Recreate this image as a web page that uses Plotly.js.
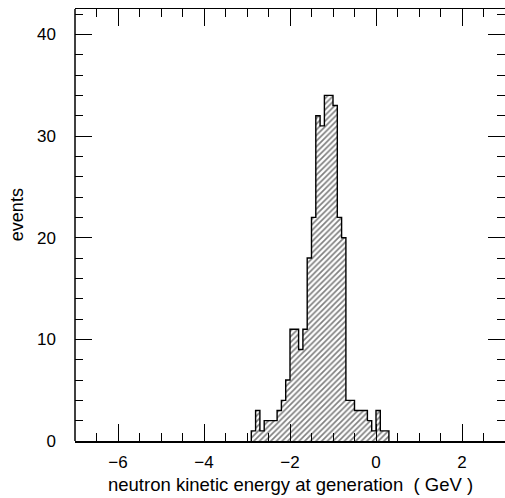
<!DOCTYPE html>
<html>
<head>
<meta charset="utf-8">
<script src="https://cdn.plot.ly/plotly-3.0.1.min.js"></script>
<style>html,body{margin:0;padding:0;background:#fff;}#chart{width:505px;height:498px;}</style>
</head>
<body>
<div id="chart"></div>
<script>
// Bin lower edges (GeV), bin width 0.1
var binEdges = [-2.9,-2.8,-2.7,-2.6,-2.5,-2.4,-2.3,-2.2,-2.1,-2.0,-1.9,-1.8,-1.7,-1.6,-1.5,-1.4,-1.3,-1.2,-1.1,-1.0,-0.9,-0.8,-0.7,-0.6,-0.5,-0.4,-0.3,-0.2,-0.1,0.0,0.1,0.2];
var binWidth = 0.1;
var counts = [1,3,1,2,2,2,3,4,6,11,11,9,11,18,22,32,31,34,34,33,22,20,4,4,3,3,3,2,1,3,1,1];
var xTitle = "neutron kinetic energy at generation  ( GeV )";
var yTitle = "events";

var centers = binEdges.map(function(e){ return e + binWidth/2; });

// step outline
var ox = [binEdges[0]], oy = [0];
for (var i = 0; i < binEdges.length; i++) { ox.push(binEdges[i]); oy.push(counts[i]); }
ox.push(binEdges[binEdges.length-1] + binWidth); oy.push(0);

var bars = {
  type: 'bar', x: centers, y: counts, width: binWidth,
  marker: {color: '#ffffff', line: {width: 0},
    pattern: {shape: '/', size: 4, solidity: 0.42, fgcolor: '#000000', bgcolor: '#ffffff', fillmode: 'overlay'}},
  hoverinfo: 'x+y', showlegend: false
};
var outline = {
  type: 'scatter', mode: 'lines', x: ox, y: oy,
  line: {shape: 'hv', color: '#000000', width: 1.4},
  hoverinfo: 'skip', showlegend: false
};

var fam = 'Liberation Sans, Arial, Helvetica, sans-serif';
var layout = {
  width: 505, height: 498,
  margin: {l: 75, r: 0, t: 9, b: 57, pad: 0},
  paper_bgcolor: '#fff', plot_bgcolor: '#fff',
  font: {family: fam, size: 17, color: '#000'},
  bargap: 0,
  showlegend: false,
  xaxis: {
    range: [-7, 3], dtick: 2, tick0: 0,
    ticks: 'inside', ticklen: 17, tickwidth: 1, tickcolor: '#000',
    minor: {dtick: 0.5, ticks: 'inside', ticklen: 8, tickwidth: 1, tickcolor: '#000'},
    showline: true, linecolor: '#000', linewidth: 1.5, mirror: 'ticks',
    showgrid: false, zeroline: false,
    tickfont: {family: fam, size: 17, color: '#000'},
    ticklabelstandoff: 5
  },
  yaxis: {
    range: [0, 42.5], dtick: 10, tick0: 0,
    ticks: 'inside', ticklen: 17, tickwidth: 1, tickcolor: '#000',
    minor: {dtick: 2, ticks: 'inside', ticklen: 8, tickwidth: 1, tickcolor: '#000'},
    showline: false, mirror: 'allticks',
    showgrid: false, zeroline: false,
    tickfont: {family: fam, size: 17, color: '#000'},
    ticklabelstandoff: 18
  },
  shapes: [{type: 'line', xref: 'paper', yref: 'paper', x0: 0, x1: 0, y0: 0, y1: 1,
            line: {color: '#000', width: 1.5}}],
  annotations: [{
    text: yTitle, textangle: -90, xref: 'paper', yref: 'paper',
    x: -0.135, y: 0.525, xanchor: 'center', yanchor: 'middle', showarrow: false,
    font: {family: fam, size: 18, color: '#000'}
  }, {
    text: xTitle, xref: 'paper', yref: 'paper',
    x: 0.5, y: -0.1, xanchor: 'center', yanchor: 'middle', showarrow: false,
    font: {family: fam, size: 18.5, color: '#000'}
  }]
};
Plotly.newPlot('chart', [bars, outline], layout, {displayModeBar: false, staticPlot: true});
</script>
</body>
</html>
